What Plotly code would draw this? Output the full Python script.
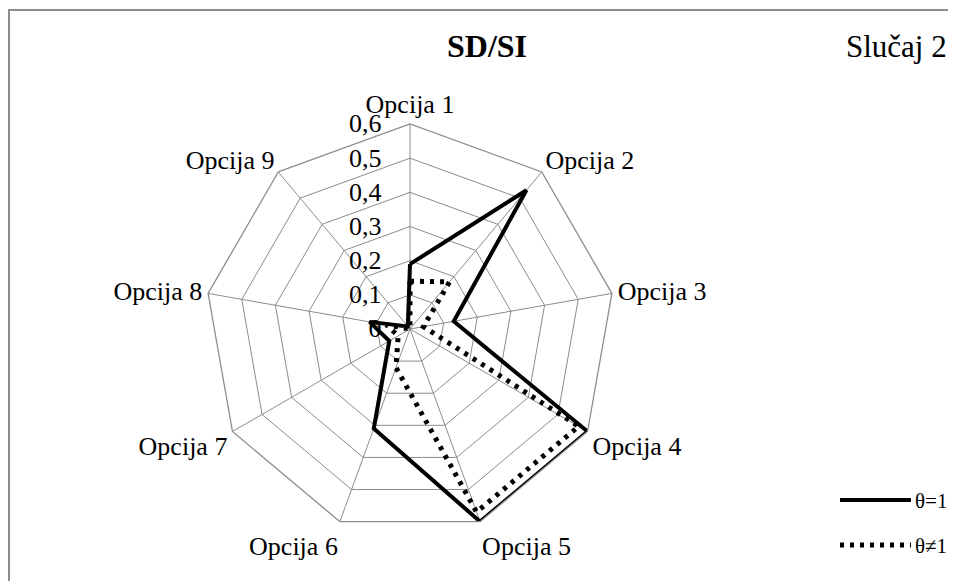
import plotly.graph_objects as go

categories = [f"Opcija {i}" for i in range(1, 10)]
theta_eq_1 = [0.19, 0.53, 0.13, 0.60, 0.60, 0.31, 0.07, 0.12, 0.01]
theta_ne_1 = [0.14, 0.18, 0.04, 0.57, 0.57, 0.12, 0.04, 0.07, 0.0]
radial_ticks = [0, 0.1, 0.2, 0.3, 0.4, 0.5, 0.6]
radial_labels = ["0", "0,1", "0,2", "0,3", "0,4", "0,5", "0,6"]

FONT = "Times New Roman, Liberation Serif, serif"
GRID = "#8c8c8c"

# page body keeps an 8px margin, so the figure is 8px smaller than the window
W, H = 948, 573
OFF = 8


def px_x(x):
    return (x - OFF) / W


def px_y(y):
    return 1 - (y - OFF) / H


fig = go.Figure()

fig.add_trace(go.Scatterpolar(
    r=theta_eq_1 + theta_eq_1[:1],
    theta=categories + categories[:1],
    mode="lines",
    line=dict(color="black", width=4),
    name="θ=1",
))
fig.add_trace(go.Scatterpolar(
    r=theta_ne_1 + theta_ne_1[:1],
    theta=categories + categories[:1],
    mode="lines",
    line=dict(color="black", width=5, dash="4px,6px"),
    name="θ≠1",
))

fig.update_layout(
    width=W,
    height=H,
    margin=dict(l=0, r=0, t=0, b=0),
    paper_bgcolor="white",
    plot_bgcolor="white",
    separators=",.",
    font=dict(family=FONT, size=26, color="black"),
    showlegend=False,
    polar=dict(
        domain=dict(x=[px_x(205), px_x(615)], y=[px_y(534), px_y(124)]),
        bgcolor="white",
        gridshape="linear",
        radialaxis=dict(
            range=[0, 0.6],
            tickvals=radial_ticks,
            ticktext=radial_labels,
            angle=90,
            tickangle=90,
            side="counterclockwise",
            showline=False,
            gridcolor=GRID,
            gridwidth=1.3,
            # invisible ticks only push the labels away from the spoke
            ticks="outside",
            ticklen=19,
            tickcolor="rgba(0,0,0,0)",
            tickfont=dict(size=26),
        ),
        angularaxis=dict(
            rotation=90,
            direction="clockwise",
            categoryarray=categories,
            gridcolor=GRID,
            gridwidth=1.3,
            linecolor=GRID,
            linewidth=1.3,
            ticks="",
            tickfont=dict(size=26),
        ),
    ),
    annotations=[
        dict(text="<b>SD/SI</b>", x=px_x(487), y=px_y(46), xref="paper", yref="paper",
             xanchor="center", yanchor="middle", showarrow=False, font=dict(size=32)),
        dict(text="Slučaj 2", x=px_x(896), y=px_y(46), xref="paper", yref="paper",
             xanchor="center", yanchor="middle", showarrow=False, font=dict(size=31)),
        dict(text="θ=1", x=px_x(913), y=px_y(501), xref="paper", yref="paper",
             xanchor="left", yanchor="middle", showarrow=False, font=dict(size=21)),
        dict(text="θ≠1", x=px_x(913), y=px_y(546), xref="paper", yref="paper",
             xanchor="left", yanchor="middle", showarrow=False, font=dict(size=21)),
    ],
    shapes=[
        dict(type="rect", xref="paper", yref="paper", x0=px_x(9), y0=-0.05, x1=1.05, y1=px_y(10),
             line=dict(color="#8c8c8c", width=2)),
        dict(type="line", xref="paper", yref="paper", x0=px_x(840), x1=px_x(911),
             y0=px_y(500), y1=px_y(500), line=dict(color="black", width=4)),
        dict(type="line", xref="paper", yref="paper", x0=px_x(840), x1=px_x(911),
             y0=px_y(545), y1=px_y(545), line=dict(color="black", width=5, dash="4px,6px")),
    ],
)

fig.write_html("out.html")
